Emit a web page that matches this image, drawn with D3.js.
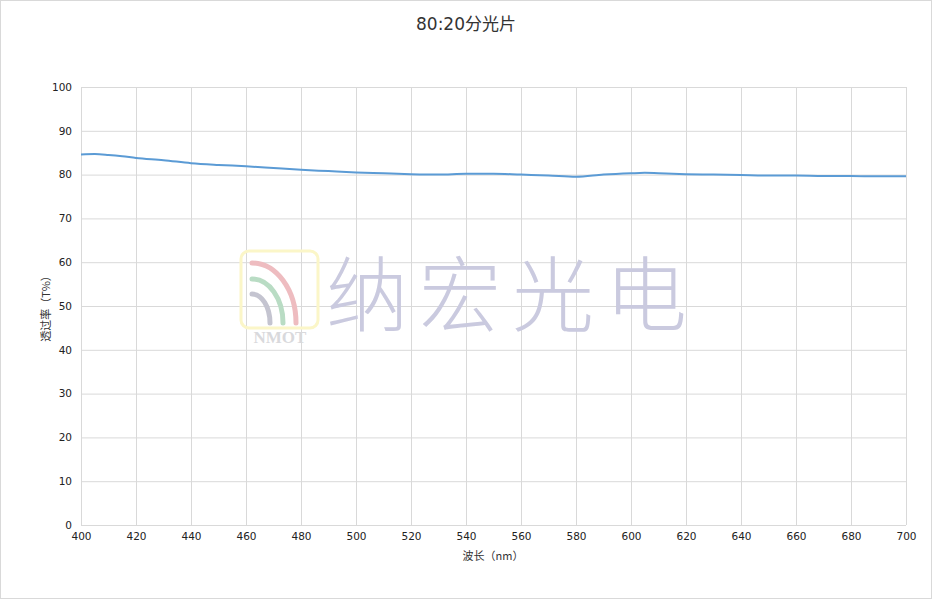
<!DOCTYPE html>
<html><head><meta charset="utf-8">
<script src="https://cdn.jsdelivr.net/npm/d3@7"></script>
<style>body{margin:0;background:#fff}svg{display:block}</style>
</head><body>
<svg id="c" width="932" height="600"></svg>
<script>
const title = "80:20分光片";
const xLabel = "波长（nm）";
const yLabel = "透过率（T%）";
const xTicks = [400,420,440,460,480,500,520,540,560,580,600,620,640,660,680,700];
const yTicks = [0,10,20,30,40,50,60,70,80,90,100];
const wavelengths = [400,405,410,415,420,430,440,450,460,470,480,490,500,510,520,530,540,550,560,570,580,590,600,605,610,620,630,640,650,660,670,680,690,700];
const transmittance = [84.6,84.7,84.5,84.2,83.8,83.3,82.6,82.2,81.9,81.5,81.1,80.8,80.5,80.3,80.1,80.0,80.2,80.2,80.0,79.8,79.5,80.0,80.3,80.4,80.3,80.1,80.0,79.9,79.8,79.8,79.7,79.7,79.6,79.6];

const svg = d3.select("#c");
const m = {l:81, r:906, t:87, b:525};
const x = d3.scaleLinear().domain([400,700]).range([m.l,m.r]);
const y = d3.scaleLinear().domain([0,100]).range([m.b,m.t]);

svg.append("rect").attr("x",0.5).attr("y",0.5).attr("width",931).attr("height",598)
  .attr("fill","#fff").attr("stroke","#d9d9d9");

// grid
svg.append("g").selectAll("line").data(yTicks).join("line")
  .attr("x1",m.l).attr("x2",m.r).attr("y1",d=>y(d)+0.5).attr("y2",d=>y(d)+0.5)
  .attr("stroke","#d9d9d9").attr("stroke-width",1);
svg.append("g").selectAll("line").data(xTicks).join("line")
  .attr("y1",m.t).attr("y2",m.b).attr("x1",d=>Math.round(x(d))+0.5).attr("x2",d=>Math.round(x(d))+0.5)
  .attr("stroke","#d9d9d9").attr("stroke-width",1);

// axes labels
const fnt = "'DejaVu Sans', Verdana, sans-serif";
const yAxis = d3.axisLeft(y).tickValues(yTicks).tickSize(0).tickPadding(9);
const gy = svg.append("g").attr("transform",`translate(${m.l},0)`).call(yAxis);
gy.select(".domain").remove();
gy.selectAll("text").attr("font-family",fnt).attr("font-size",10.5).attr("fill","#222");
const xAxis = d3.axisBottom(x).tickValues(xTicks).tickSize(0).tickPadding(8);
const gx = svg.append("g").attr("transform",`translate(0,${m.b})`).call(xAxis);
gx.select(".domain").remove();
gx.selectAll("text").attr("font-family",fnt).attr("font-size",10.5).attr("fill","#222");

// watermark
const wm = svg.append("g");
wm.append("rect").attr("x",241).attr("y",251).attr("width",77).attr("height",77).attr("rx",8)
  .attr("fill","none").attr("stroke","#fbf6c8").attr("stroke-width",3);
const cx0 = 252, cy0 = 323;
const arc = (rx,ry,col)=>wm.append("path")
  .attr("d",`M${cx0} ${cy0-ry} A ${rx} ${ry} 0 0 1 ${cx0+rx} ${cy0}`)
  .attr("fill","none").attr("stroke",col).attr("stroke-width",5).attr("stroke-linecap","round");
arc(44,60,"#eebcc0"); arc(31,44,"#b9dcc4"); arc(18,29,"#c4c4d0");
wm.append("text").attr("x",280).attr("y",343).attr("text-anchor","middle")
  .attr("font-family","'Liberation Serif', serif").attr("font-weight","bold").attr("font-size",17)
  .attr("fill","#d9d9dc").text("NMOT");
wm.append("text").attr("x",326).attr("y",325).attr("font-family","'Noto Sans CJK SC', sans-serif")
  .attr("font-weight",300).attr("font-size",82).attr("letter-spacing",11).attr("fill","#cacadf").text("纳宏光电");

// line
svg.append("path").datum(wavelengths.map((w,i)=>[w,transmittance[i]]))
  .attr("d",d3.line().x(d=>x(d[0])).y(d=>y(d[1])).curve(d3.curveMonotoneX))
  .attr("fill","none").attr("stroke","#5b9bd5").attr("stroke-width",2);

// titles
svg.append("text").attr("x",466).attr("y",30).attr("text-anchor","middle")
  .attr("font-family","'DejaVu Sans', 'Noto Sans CJK SC', sans-serif").attr("font-size",17).attr("fill","#333").text(title);
svg.append("text").attr("x",493).attr("y",560).attr("text-anchor","middle")
  .attr("font-family","'Noto Sans CJK SC', sans-serif").attr("font-size",11).attr("fill","#333").text(xLabel);
svg.append("text").attr("transform","translate(50,306) rotate(-90)").attr("text-anchor","middle")
  .attr("font-family","'Noto Sans CJK SC', sans-serif").attr("font-size",11).attr("fill","#333").text(yLabel);
</script>
</body></html>
